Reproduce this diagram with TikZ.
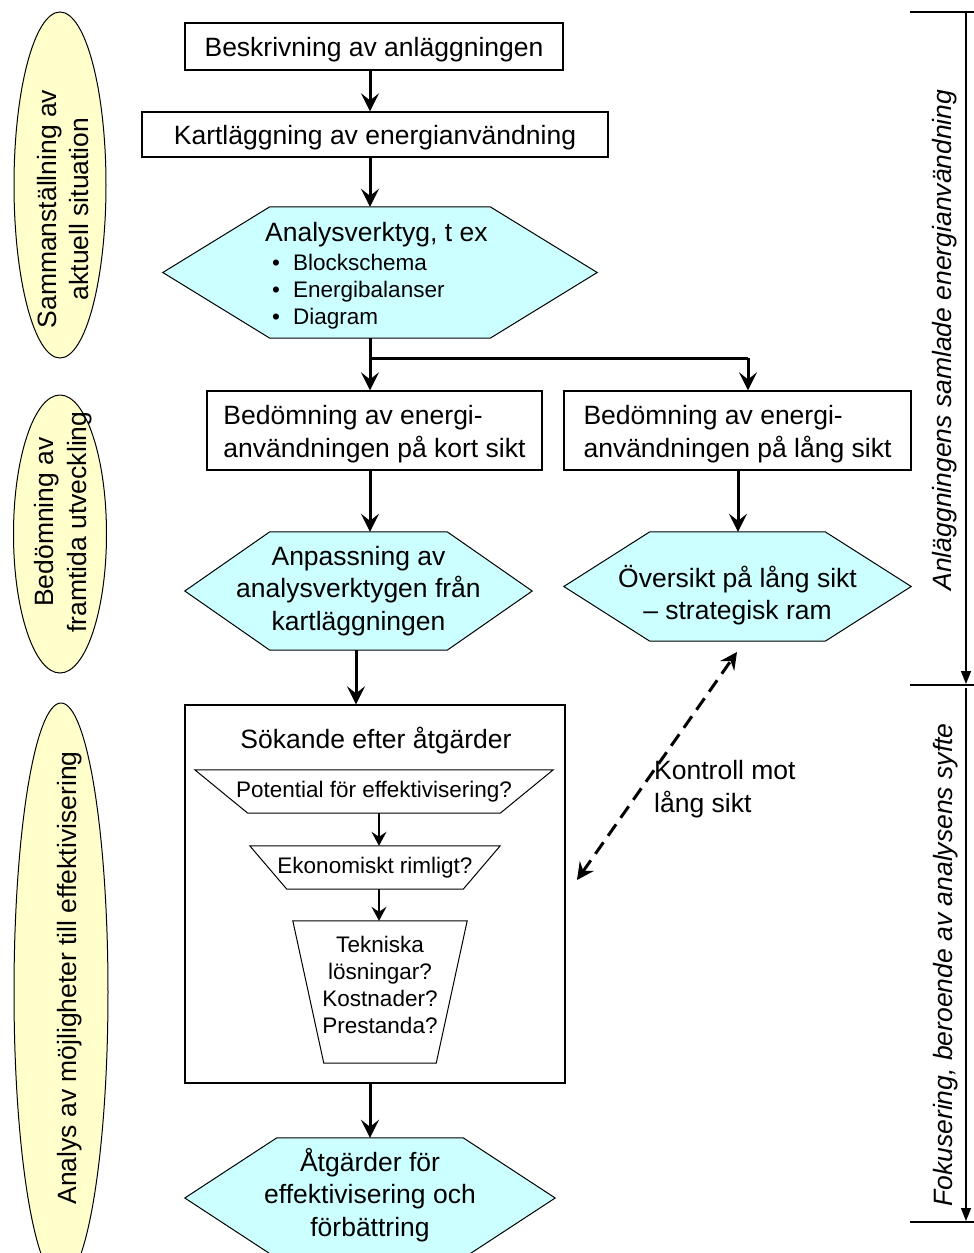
\documentclass[tikz,border=0pt]{standalone}
\usepackage{fontspec}
\setmainfont{Liberation Sans}
\usetikzlibrary{arrows.meta,backgrounds,shapes.geometric,calc}
\newcommand\mainfs{\fontsize{26.5}{32.5}\selectfont}
\newcommand\smallfs{\fontsize{22.5}{27}\selectfont}
\definecolor{hexcyan}{HTML}{CCFFFF}
\definecolor{ellyellow}{HTML}{FFFFCC}
\tikzset{
 box/.style={draw, line width=1.3pt, inner sep=0pt, font=\mainfs},
 hexnode/.style={inner sep=0pt, font=\mainfs, align=center},
 hexshape/.style={draw, line width=1pt, fill=hexcyan},
 trapshape/.style={draw, line width=1pt},
 trapnode/.style={inner sep=0pt, font=\smallfs, align=center},
 ell/.style={ellipse, draw, line width=1pt, fill=ellyellow, inner sep=0pt},
 elltext/.style={rotate=90, align=center, font=\mainfs, inner sep=0pt},
 arr/.style={line width=3pt, -{Stealth[length=18pt,width=18pt,inset=7pt]}},
 sarr/.style={line width=1.5pt, -{Stealth[length=14pt,width=15pt,inset=5pt]}},
 thickline/.style={line width=3pt},
 darr/.style={line width=3pt, dash pattern=on 14pt off 8pt, {Stealth[length=17pt,width=17pt,inset=6pt]}-{Stealth[length=17pt,width=17pt,inset=6pt]}},
 brk/.style={line width=1.5pt},
 brkarr/.style={line width=1.5pt, -{Triangle[length=13pt,width=10pt]}},
 brktext/.style={rotate=90, font=\mainfs\itshape, inner sep=0pt},
 plaintext/.style={inner sep=0pt, align=center},
}
\newcommand\hexpath[2]{\draw[hexshape] (#1.west) -- ([xshift=#2pt]#1.north west) -- ([xshift=-#2pt]#1.north east) -- (#1.east) -- ([xshift=-#2pt]#1.south east) -- ([xshift=#2pt]#1.south west) -- cycle;}
\newcommand\trappath[2]{\draw[trapshape] (#1.north west) -- (#1.north east) -- ([xshift=-#2pt]#1.south east) -- ([xshift=#2pt]#1.south west) -- cycle;}
\begin{document}
\begin{tikzpicture}[x=1pt,y=-1pt]
\clip (0,0) rectangle (974,1253);

% ellipses
\node[ell, minimum width=92, minimum height=346] (e1) at (60,185) {};
\node[elltext] (e1t) at (63,209) {Sammanställning av\\aktuell situation};
\node[ell, minimum width=93, minimum height=278] (e2) at (60,534) {};
\node[elltext] (e2t) at (63,522) {Bedömning av\\framtida utveckling};
\node[ell, minimum width=94, minimum height=578] (e3) at (61,992) {};
\node[elltext] (e3t) at (70,978) {Analys av möjligheter till effektivisering};

% boxes
\node[box, minimum width=378, minimum height=47, text height=19pt, text depth=0pt] (b1) at (374,46.5) {Beskrivning av anläggningen};
\node[box, minimum width=466, minimum height=45, text height=19pt, text depth=0pt] (b2) at (375,134.5) {Kartläggning av energianvändning};

\node[hexnode, minimum width=434, minimum height=131] (h1) at (380,272.5) {};
\node[anchor=base west, font=\mainfs, inner sep=0pt] (h1t) at (265,241) {Analysverktyg, t ex};
\node[anchor=base, font=\smallfs, inner sep=0pt] (h1b1) at (276,270) {•};
\node[anchor=base west, font=\smallfs, inner sep=0pt] (h1i1) at (293,270) {Blockschema};
\node[anchor=base, font=\smallfs, inner sep=0pt] (h1b2) at (276,297) {•};
\node[anchor=base west, font=\smallfs, inner sep=0pt] (h1i2) at (293,297) {Energibalanser};
\node[anchor=base, font=\smallfs, inner sep=0pt] (h1b3) at (276,324) {•};
\node[anchor=base west, font=\smallfs, inner sep=0pt] (h1i3) at (293,324) {Diagram};

\node[box, minimum width=335, minimum height=79] (b3) at (374.5,430.5) {};
\node[plaintext, align=left, font=\mainfs] (b3t) at (374.5,434) {Bedömning av energi-\\användningen på kort sikt};
\node[box, minimum width=347, minimum height=79] (b4) at (737.5,430.5) {};
\node[plaintext, align=left, font=\mainfs] (b4t) at (737.5,434) {Bedömning av energi-\\användningen på lång sikt};

\node[hexnode, minimum width=347, minimum height=118] (h2) at (358.5,591) {Anpassning av\\analysverktygen från\\kartläggningen};
\node[hexnode, minimum width=347, minimum height=109] (h3) at (737.5,586.5) {};
\node[plaintext, font=\mainfs] (h3t) at (737.5,595) {Översikt på lång sikt\\– strategisk ram};

\node[box, minimum width=380, minimum height=378] (big) at (375,894) {};
\node[font=\mainfs, inner sep=0pt] (bigt) at (376,741) {Sökande efter åtgärder};
\node[trapnode, minimum width=358, minimum height=43] (t1) at (374,791.5) {Potential för effektivisering?};
\node[trapnode, minimum width=250, minimum height=43] (t2) at (375,867.5) {Ekonomiskt rimligt?};
\node[trapnode, minimum width=174, minimum height=142] (t3) at (380,992) {};
\node[plaintext, font=\smallfs] (t3t) at (380,985) {Tekniska\\lösningar?\\Kostnader?\\Prestanda?};

\node[hexnode, minimum width=370, minimum height=120] (h4) at (370,1198) {};
\node[plaintext, font=\mainfs] (h4t) at (370,1195) {Åtgärder för\\effektivisering och\\förbättring};

\node[anchor=west, font=\mainfs, align=left, inner sep=0pt] (ctl) at (654,789) {Kontroll mot\\lång sikt};

\begin{scope}[on background layer]
\hexpath{h1}{107}
\hexpath{h2}{85}
\hexpath{h3}{86}
\hexpath{h4}{92}
\trappath{t1}{53}
\trappath{t2}{37}
\trappath{t3}{31}
\end{scope}

% connectors
\coordinate (ax) at (370,0);
\coordinate (axr) at (748,0);
\coordinate (axr2) at (738,0);
\coordinate (axm) at (356,0);
\coordinate (axs) at (379,0);
\coordinate (split) at (370,358);
\draw[arr] (b1.south -| ax) -- (b2.north -| ax);
\draw[arr] (b2.south -| ax) -- (h1.north -| ax);
\draw[arr] (h1.south -| ax) -- (b3.north -| ax);
\draw[thickline] (split) -- (split -| axr);
\draw[arr] (split -| axr) -- (b4.north -| axr);
\draw[arr] (b3.south -| ax) -- (h2.north -| ax);
\draw[arr] (b4.south -| axr2) -- (h3.north -| axr2);
\draw[arr] (h2.south -| axm) -- (big.north -| axm);
\draw[sarr] (t1.south -| axs) -- (t2.north -| axs);
\draw[sarr] (t2.south -| axs) -- (t3.north -| axs);
\draw[arr] (big.south -| ax) -- (h4.north -| ax);

\coordinate (dtop) at (737,652);
\coordinate (dbot) at (577,880);
\draw[darr] (dbot) -- (dtop);

% right bracket
\coordinate (k1a) at (910,12);
\coordinate (k1b) at (974,12);
\coordinate (k2a) at (910,685);
\coordinate (k2b) at (974,685);
\coordinate (k3a) at (910,1222);
\coordinate (k3b) at (974,1222);
\coordinate (v1s) at (966,12);
\coordinate (v1e) at (966,684);
\coordinate (v2s) at (966,688);
\coordinate (v2e) at (966,1221);
\draw[brk] (k1a) -- (k1b);
\draw[brk] (k2a) -- (k2b);
\draw[brk] (k3a) -- (k3b);
\draw[brkarr] (v1s) -- (v1e);
\draw[brkarr] (v2s) -- (v2e);
\node[brktext] (br1) at (945,340) {Anläggningens samlade energianvändning};
\node[brktext] (br2) at (946,965) {Fokusering, beroende av analysens syfte};
\end{tikzpicture}
\end{document}
